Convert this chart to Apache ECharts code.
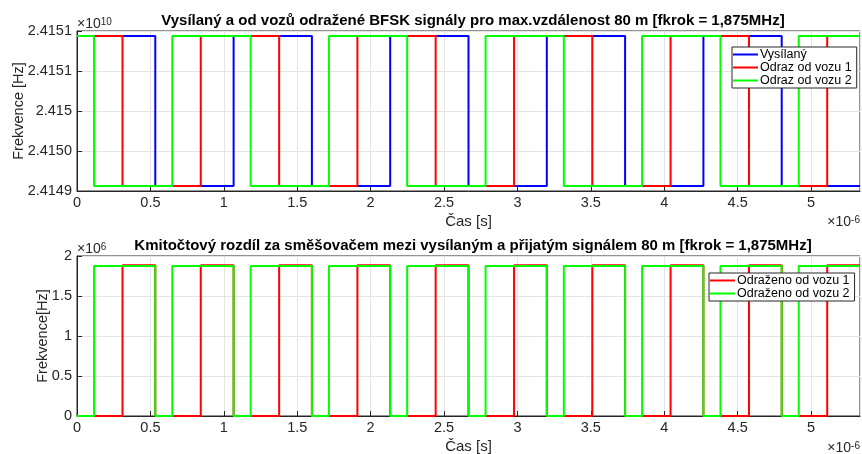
<!DOCTYPE html>
<html>
<head>
<meta charset="utf-8">
<script src="https://cdn.jsdelivr.net/npm/echarts@6/dist/echarts.min.js"></script>
<style>
html,body{margin:0;padding:0;background:#fff;}
#c{width:862px;height:454px;}
</style>
</head>
<body>
<div id="c"></div>
<script>
// ---- data (time in microseconds, shown with ×10^-6 multiplier) ----
const timeMax = 5.3333;

// top plot: switching instants (start level = high)
const edgesVysilany = [0.5333, 1.0667, 1.6, 2.1333, 2.6667, 3.2, 3.7333, 4.2667, 4.8];
const edgesVuz1 = [0.31, 0.843, 1.377, 1.91, 2.443, 2.977, 3.51, 4.043, 4.577, 5.11];
const edgesVuz2 = [0.116, 0.649, 1.183, 1.716, 2.249, 2.783, 3.316, 3.849, 4.383, 4.916];
const freqLevels = [24149062500, 24150937500]; // [low, high] Hz
const yTopMin = 24149000000, yTopMax = 24151000000, yTopStep = 500000;
const yTopLabels = ['2.4149', '2.4150', '2.415', '2.4151', '2.4151'];

// bottom plot: difference frequency switching instants (start level = 0)
const diffEdgesVuz1 = [0.31, 0.5333, 0.843, 1.0667, 1.377, 1.6, 1.91, 2.1333, 2.443, 2.6667, 2.977, 3.2, 3.51, 3.7333, 4.043, 4.2667, 4.577, 4.8, 5.11];
const diffEdgesVuz2 = [0.116, 0.5333, 0.649, 1.0667, 1.183, 1.6, 1.716, 2.1333, 2.249, 2.6667, 2.783, 3.2, 3.316, 3.7333, 3.849, 4.2667, 4.383, 4.8, 4.916];
const diffLevelsVuz1 = [0, 1885000];
const diffLevelsVuz2 = [0, 1875000];
const yBotLabels = ['0', '0.5', '1', '1.5', '2'];

const titleTop = 'Vysílaný a od vozů odražené BFSK signály pro max.vzdálenost 80 m [fkrok = 1,875MHz]';
const titleBot = 'Kmitočtový rozdíl za směšovačem mezi vysílaným a přijatým signálem 80 m [fkrok = 1,875MHz]';

// build step polyline from switching instants
function stepLine(edges, levels, startIdx) {
  let idx = startIdx;
  const pts = [[0, levels[idx]]];
  edges.forEach(e => {
    pts.push([e, levels[idx]]);
    idx = 1 - idx;
    pts.push([e, levels[idx]]);
  });
  pts.push([timeMax, levels[idx]]);
  return pts;
}

const FONT = '"Liberation Sans", Arial, Helvetica, sans-serif';
const AX = '#262626';
const GRIDC = '#e4e4e4';
const TICKFS = 14.5;

function xAxis(gi) {
  return {
    type: 'value', gridIndex: gi, min: 0, max: timeMax, interval: 0.5,
    axisLine: {show: true, onZero: false, lineStyle: {color: AX, width: 1}},
    axisTick: {show: true, inside: true, length: 5, lineStyle: {color: AX}},
    axisLabel: {color: AX, fontSize: TICKFS, fontFamily: FONT, margin: 4, showMaxLabel: false,
      formatter: v => String(v)},
    splitLine: {show: true, lineStyle: {color: GRIDC, width: 1}},
    name: 'Čas [s]', nameLocation: 'middle', nameGap: 23, nameMoveOverlap: false,
    nameTextStyle: {color: AX, fontSize: 15, fontFamily: FONT, verticalAlign: 'top'}
  };
}

const legendCommon = {
  orient: 'vertical', itemGap: 0, itemWidth: 25, itemHeight: 2, icon: 'rect',
  padding: [1, 5, 1, 1], borderColor: AX, borderWidth: 1, backgroundColor: '#fff',
  textStyle: {fontSize: 12.5, color: '#000', fontFamily: FONT, lineHeight: 13, padding: [0, 0, 0, -3]}
};

const expRich = {
  b: {fontSize: 14, fontFamily: FONT, fill: AX, verticalAlign: 'bottom'},
  s: {fontSize: 10, fontFamily: FONT, fill: AX, verticalAlign: 'top'}
};

const gridCommon = {show: true, borderColor: AX, borderWidth: 1, backgroundColor: 'transparent',
  containLabel: false, outerBoundsMode: 'none'};

const option = {
  animation: false,
  backgroundColor: '#fff',
  textStyle: {fontFamily: FONT},
  title: [
    {text: titleTop, left: 468, top: 8, textAlign: 'center',
      textStyle: {fontSize: 15, fontWeight: 'bold', color: '#000', fontFamily: FONT}},
    {text: titleBot, left: 468, top: 233, textAlign: 'center',
      textStyle: {fontSize: 15, fontWeight: 'bold', color: '#000', fontFamily: FONT}}
  ],
  grid: [
    Object.assign({left: 77, top: 31, width: 783, height: 160}, gridCommon),
    Object.assign({left: 77, top: 256, width: 783, height: 160}, gridCommon)
  ],
  xAxis: [xAxis(0), xAxis(1)],
  yAxis: [
    {type: 'value', gridIndex: 0, min: yTopMin, max: yTopMax, interval: yTopStep,
      axisLine: {show: true, lineStyle: {color: AX}},
      axisTick: {show: true, inside: true, length: 5, lineStyle: {color: AX}},
      axisLabel: {color: AX, fontSize: TICKFS, fontFamily: FONT, margin: 5,
        formatter: v => yTopLabels[Math.round((v - yTopMin) / yTopStep)]},
      splitLine: {show: true, lineStyle: {color: GRIDC}},
      name: 'Frekvence [Hz]', nameLocation: 'middle', nameGap: 51, nameMoveOverlap: false,
      nameTextStyle: {color: AX, fontSize: 14.5, fontFamily: FONT}},
    {type: 'value', gridIndex: 1, min: 0, max: 2000000, interval: 500000,
      axisLine: {show: true, lineStyle: {color: AX}},
      axisTick: {show: true, inside: true, length: 5, lineStyle: {color: AX}},
      axisLabel: {color: AX, fontSize: TICKFS, fontFamily: FONT, margin: 5,
        formatter: v => yBotLabels[Math.round(v / 500000)]},
      splitLine: {show: true, lineStyle: {color: GRIDC}},
      name: 'Frekvence[Hz]', nameLocation: 'middle', nameGap: 27, nameMoveOverlap: false,
      nameTextStyle: {color: AX, fontSize: 14.5, fontFamily: FONT}}
  ],
  legend: [
    Object.assign({data: ['Vysílaný', 'Odraz od vozu 1', 'Odraz od vozu 2'], left: 732, top: 47}, legendCommon),
    Object.assign({data: ['Odraženo od vozu 1', 'Odraženo od vozu 2'], left: 709, top: 273}, legendCommon)
  ],
  graphic: [
    {type: 'text', left: 77, top: 17, style: {text: '{b|×10}{s|10}', rich: expRich}},
    {type: 'text', left: 77, top: 242, style: {text: '{b|×10}{s|6}', rich: expRich}},
    {type: 'text', right: 2, top: 215, style: {text: '{b|×10}{s|-6}', rich: expRich}},
    {type: 'text', right: 2, top: 441, style: {text: '{b|×10}{s|-6}', rich: expRich}}
  ],
  series: [
    {name: 'Vysílaný', type: 'line', xAxisIndex: 0, yAxisIndex: 0, symbol: 'none',
      data: stepLine(edgesVysilany, freqLevels, 1), lineStyle: {color: '#0000ff', width: 2}, itemStyle: {color: '#0000ff'}},
    {name: 'Odraz od vozu 1', type: 'line', xAxisIndex: 0, yAxisIndex: 0, symbol: 'none',
      data: stepLine(edgesVuz1, freqLevels, 1), lineStyle: {color: '#ff0000', width: 2}, itemStyle: {color: '#ff0000'}},
    {name: 'Odraz od vozu 2', type: 'line', xAxisIndex: 0, yAxisIndex: 0, symbol: 'none',
      data: stepLine(edgesVuz2, freqLevels, 1), lineStyle: {color: '#00ff00', width: 2}, itemStyle: {color: '#00ff00'}},
    {name: 'Odraženo od vozu 1', type: 'line', xAxisIndex: 1, yAxisIndex: 1, symbol: 'none',
      data: stepLine(diffEdgesVuz1, diffLevelsVuz1, 0), lineStyle: {color: '#ff0000', width: 2}, itemStyle: {color: '#ff0000'}},
    {name: 'Odraženo od vozu 2', type: 'line', xAxisIndex: 1, yAxisIndex: 1, symbol: 'none',
      data: stepLine(diffEdgesVuz2, diffLevelsVuz2, 0), lineStyle: {color: '#00ff00', width: 2}, itemStyle: {color: '#00ff00'}}
  ]
};

const chart = echarts.init(document.getElementById('c'), null, {renderer: 'canvas'});
chart.setOption(option);
</script>
</body>
</html>
